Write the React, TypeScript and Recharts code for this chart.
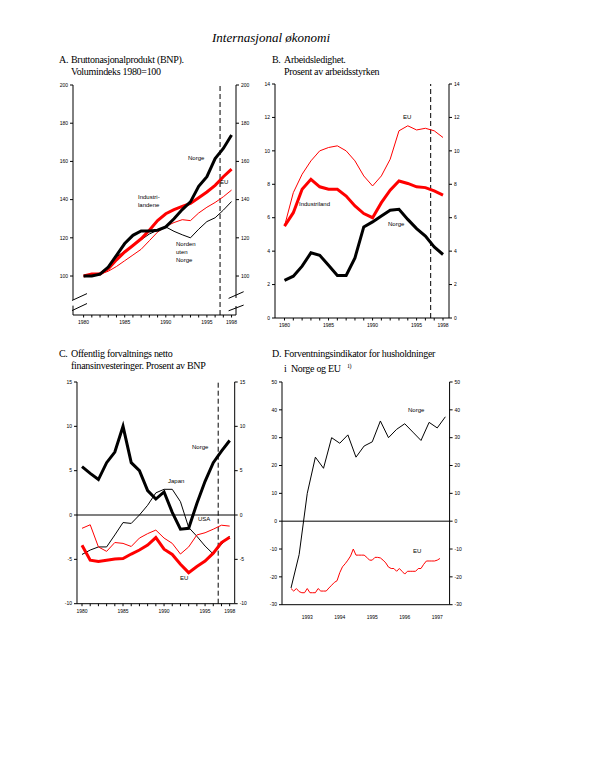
import React from 'react';
import { LineChart, Line, XAxis, YAxis, ReferenceLine } from 'recharts';

// ---- data ----
const years = [1980, 1981, 1982, 1983, 1984, 1985, 1986, 1987, 1988, 1989, 1990, 1991, 1992, 1993, 1994, 1995, 1996, 1997, 1998];

// A. BNP, volumindeks 1980=100
const bnpNorge = [100, 100, 101, 104.7, 110.8, 117, 121.3, 123.6, 123.6, 124, 125.7, 130, 134.8, 138.8, 147, 152, 161.5, 166.8, 173.8];
const bnpEU = [100, 101, 101, 103.8, 108.5, 112.6, 116, 119.5, 124, 129, 132.6, 134.8, 136.5, 138, 141, 144, 147.5, 152, 156];
const bnpIndustri = [100, 101, 101, 102.5, 105, 108, 111, 114, 118.5, 123, 126, 128, 129.5, 129, 133, 136, 138.5, 141.5, 145];
const bnpNorden = [100, 101, 101.5, 105, 110, 113, 116, 119, 122, 124, 125.7, 123.4, 121.6, 120, 124.5, 128.5, 130.5, 134.5, 139];

// B. Arbeidsledighet
const ledigNorge = [2.25, 2.5, 3.1, 3.9, 3.75, 3.15, 2.55, 2.55, 3.6, 5.45, 5.75, 6.1, 6.45, 6.5, 5.9, 5.35, 4.9, 4.25, 3.8];
const ledigIndustri = [5.5, 6.3, 7.7, 8.3, 7.85, 7.7, 7.7, 7.3, 6.7, 6.25, 6.0, 6.9, 7.65, 8.2, 8.05, 7.85, 7.8, 7.6, 7.35];
const ledigEU = [5.5, 7.5, 8.6, 9.4, 10.0, 10.2, 10.3, 10.0, 9.4, 8.5, 7.9, 8.5, 9.5, 11.2, 11.5, 11.25, 11.35, 11.2, 10.8];

// C. Netto finansinvesteringer
const finNorge = [5.45, 4.7, 4.0, 5.9, 7.1, 10, 5.9, 5.0, 2.75, 1.8, 2.6, 0.3, -1.6, -1.5, 1.3, 3.8, 5.9, 7.2, 8.4];
const finJapan = [-4.45, -3.95, -3.6, -3.6, -2.25, -0.85, -0.95, 0, 1.1, 2.5, 2.9, 2.9, 1.5, -1.4, -2.4, -3.5, -4.4, -3.3, -2.4];
const finUSA = [-1.5, -1.1, -3.6, -4.1, -3.1, -3.2, -3.55, -2.6, -2.1, -1.7, -2.6, -3.2, -4.4, -3.6, -2.25, -2.0, -1.6, -1.15, -1.25];
const finEU = [-3.4, -5.1, -5.25, -5.1, -4.95, -4.9, -4.4, -3.95, -3.4, -2.55, -3.85, -4.45, -5.55, -6.5, -5.8, -5.2, -4.3, -3.1, -2.5];

// D. Forventningsindikator
const norgeKvartal = ['1992K3', '1992K4', '1993K1', '1993K2', '1993K3', '1993K4', '1994K1', '1994K2', '1994K3', '1994K4',
  '1995K1', '1995K2', '1995K3', '1995K4', '1996K1', '1996K2', '1996K3', '1996K4', '1997K1', '1997K2'];
const forvNorge = [-24, -12, 10, 23, 19, 30, 28, 31, 23, 27, 28.5, 36, 30, 33, 35, 32, 29, 35.5, 33.5, 37.5];
const euMaaned = [
  '1992-07', '1992-08', '1992-09', '1992-10', '1992-11', '1992-12',
  '1993-01', '1993-02', '1993-03', '1993-04', '1993-05', '1993-06', '1993-07', '1993-08', '1993-09', '1993-10', '1993-11', '1993-12',
  '1994-01', '1994-02', '1994-03', '1994-04', '1994-05', '1994-06', '1994-07', '1994-08', '1994-09', '1994-10', '1994-11', '1994-12',
  '1995-01', '1995-02', '1995-03', '1995-04', '1995-05', '1995-06', '1995-07', '1995-08', '1995-09', '1995-10', '1995-11', '1995-12',
  '1996-01', '1996-02', '1996-03', '1996-04', '1996-05', '1996-06', '1996-07', '1996-08', '1996-09', '1996-10', '1996-11', '1996-12',
  '1997-01', '1997-02'
];
const forvEU = [
  -24.2, -25.1, -24.2, -25.3, -25.7, -25.7,
  -24.2, -25.7, -25.7, -25.7, -24.2, -25.1, -25.1, -25.1, -24, -23, -22, -21.4,
  -18.5, -16.4, -15.3, -14, -12.5, -10, -12.2, -12.2, -12.2, -12.2, -13, -14,
  -14, -13, -13, -13.2, -14, -15, -16.5, -17, -17, -18, -17, -18,
  -19, -18, -18, -18, -18, -17, -17, -15.5, -14.3, -14.3, -14.3, -14.3,
  -14, -13.4
];

// ---- tables ----
const tableA = years.map((year, i) => ({ year, norge: bnpNorge[i], eu: bnpEU[i], ind: bnpIndustri[i], norden: bnpNorden[i] }));
const tableB = years.map((year, i) => ({ year, norge: ledigNorge[i], ind: ledigIndustri[i], eu: ledigEU[i] }));
const tableC = years.map((year, i) => ({ year, norge: finNorge[i], japan: finJapan[i], usa: finUSA[i], eu: finEU[i] }));

const quarterT = (q: string) => Number(q.slice(0, 4)) + (Number(q.slice(5)) - 1) / 4;
const monthT = (m: string) => Number(m.slice(0, 4)) + (Number(m.slice(5)) - 1) / 12;
const rowsD: Record<string, any> = {};
norgeKvartal.forEach((q, i) => {
  const t = quarterT(q);
  const k = t.toFixed(4);
  rowsD[k] = { ...(rowsD[k] || { t }), norge: forvNorge[i] };
});
euMaaned.forEach((m, i) => {
  const t = monthT(m);
  const k = t.toFixed(4);
  rowsD[k] = { ...(rowsD[k] || { t }), eu: forvEU[i] };
});
const tableD = Object.values(rowsD).sort((a: any, b: any) => a.t - b.t);

// ---- layout helpers ----
const AX = 30;
const PT = 5;
const PB = 2;
const XH = 18;
type Rect = { x0: number; x1: number; y0: number; y1: number };

function frame(r: Rect) {
  return {
    style: { position: 'absolute' as const, left: r.x0 - AX, top: r.y0 - PT },
    width: r.x1 - r.x0 + 2 * AX,
    height: r.y1 - r.y0 + PT + PB + XH,
    margin: { top: PT, right: 0, bottom: PB, left: 0 }
  };
}

const tickFont = { fontSize: 5, fill: '#000', fontFamily: '"Liberation Sans", Arial, sans-serif' };
const yearTicks = years;
const yearLabel = (labels: number[]) => (v: number) => (labels.includes(v) ? String(v) : '');
const DASH_X = 1996.6;

const rectA = { x0: 72.7, x1: 235.7, y0: 85, y1: 315 };
const rectB = { x0: 275, x1: 449, y0: 84.3, y1: 318.3 };
const rectC = { x0: 77.3, x1: 235, y0: 382.3, y1: 604 };
const rectD = { x0: 281.7, x1: 449.3, y0: 382.3, y1: 605 };

const domA: [number, number] = [1978.71, 1998.54];
const domB: [number, number] = [1978.92, 1998.68];
const domC: [number, number] = [1979.39, 1998.61];
const domD: [number, number] = [1992.223, 1997.38];

function Txt({ x, y, children, size = 6 }: { x: number; y: number; children: React.ReactNode; size?: number }) {
  return (
    <div style={{ position: 'absolute', left: x, top: y - size / 2, fontSize: size, lineHeight: `${size}px`, fontFamily: '"Liberation Sans", Arial, sans-serif', whiteSpace: 'nowrap' }}>
      {children}
    </div>
  );
}

function Heading({ x, y, letter, lines }: { x: number; y: number; letter: string; lines: React.ReactNode[] }) {
  return (
    <div style={{ position: 'absolute', left: x, top: y, fontFamily: '"Liberation Serif", "Times New Roman", serif', fontSize: 10, lineHeight: '12px', letterSpacing: -0.3, whiteSpace: 'nowrap' }}>
      <span style={{ position: 'absolute', left: 0, top: 0 }}>{letter}</span>
      {lines.map((l, i) => (
        <div key={i} style={{ position: 'absolute', left: 12, top: i * 12 }}>{l}</div>
      ))}
    </div>
  );
}

export default function App() {
  const fA = frame(rectA);
  const fB = frame(rectB);
  const fC = frame(rectC);
  const fD = frame(rectD);
  return (
    <div style={{ position: 'absolute', left: 0, top: 0, width: 594, height: 768, background: '#fff', overflow: 'hidden' }}>
      <div style={{ position: 'absolute', left: 212, top: 30, fontFamily: '"Liberation Serif", "Times New Roman", serif', fontStyle: 'italic', fontSize: 13, whiteSpace: 'nowrap' }}>
        Internasjonal økonomi
      </div>

      <Heading x={59} y={54} letter='A.' lines={['Bruttonasjonalprodukt (BNP).', 'Volumindeks 1980=100']} />
      <Heading x={272} y={54} letter='B.' lines={['Arbeidsledighet.', 'Prosent av arbeidsstyrken']} />
      <Heading x={59} y={348} letter='C.' lines={['Offentlig forvaltnings netto', 'finansinvesteringer. Prosent av BNP']} />
      <Heading x={272} y={348} letter='D.' lines={['Forventningsindikator for husholdninger', <span>i&nbsp; Norge og EU <sup style={{ fontSize: 6, marginLeft: 4 }}>1)</sup></span>]} />

      {/* A */}
      <div style={fA.style}>
        <LineChart width={fA.width} height={fA.height} data={tableA} margin={fA.margin}>
          <XAxis type='number' dataKey='year' domain={domA} ticks={yearTicks} interval={0} tickFormatter={yearLabel([1980, 1985, 1990, 1995, 1998])}
            tickSize={2.5} tickMargin={3} height={XH} tick={tickFont} stroke='#000' allowDataOverflow />
          <YAxis yAxisId='l' domain={[79.6, 200]} ticks={[100, 120, 140, 160, 180, 200]} interval={0} tickSize={3} tickMargin={2}
            width={AX} tick={tickFont} stroke='#000' axisLine={false} allowDataOverflow />
          <YAxis yAxisId='r' orientation='right' domain={[79.6, 200]} ticks={[100, 120, 140, 160, 180, 200]} interval={0} tickSize={3} tickMargin={2}
            width={AX} tick={tickFont} stroke='#000' axisLine={false} allowDataOverflow />
          <ReferenceLine yAxisId='l' ifOverflow='visible' stroke='#000' segment={[{ x: domA[0], y: 200 }, { x: domA[0], y: 87.5 }]} />
          <ReferenceLine yAxisId='l' ifOverflow='visible' stroke='#000' segment={[{ x: domA[0], y: 84.5 }, { x: domA[0], y: 79.6 }]} />
          <ReferenceLine yAxisId='l' ifOverflow='visible' stroke='#000' segment={[{ x: domA[1], y: 200 }, { x: domA[1], y: 88.5 }]} />
          <ReferenceLine yAxisId='l' ifOverflow='visible' stroke='#000' segment={[{ x: domA[1], y: 84.3 }, { x: domA[1], y: 79.6 }]} />
          <ReferenceLine yAxisId='l' ifOverflow='visible' stroke='#000' segment={[{ x: 1978.59, y: 87.2 }, { x: 1980.41, y: 90.8 }]} />
          <ReferenceLine yAxisId='l' ifOverflow='visible' stroke='#000' segment={[{ x: 1978.59, y: 81.9 }, { x: 1980.41, y: 85.6 }]} />
          <ReferenceLine yAxisId='l' ifOverflow='visible' stroke='#000' segment={[{ x: 1997.64, y: 88.3 }, { x: 1999.47, y: 91.8 }]} />
          <ReferenceLine yAxisId='l' ifOverflow='visible' stroke='#000' segment={[{ x: 1997.64, y: 81.8 }, { x: 1999.47, y: 84.8 }]} />
          <ReferenceLine yAxisId='l' x={DASH_X} stroke='#000' strokeDasharray='5 3' />
          <Line yAxisId='l' dataKey='norden' stroke='#000' strokeWidth={1} dot={false} isAnimationActive={false} />
          <Line yAxisId='l' dataKey='ind' stroke='#ff0000' strokeWidth={1} dot={false} isAnimationActive={false} />
          <Line yAxisId='l' dataKey='eu' stroke='#ff0000' strokeWidth={3} dot={false} isAnimationActive={false} />
          <Line yAxisId='l' dataKey='norge' stroke='#000' strokeWidth={3} dot={false} isAnimationActive={false} />
        </LineChart>
      </div>

      {/* B */}
      <div style={fB.style}>
        <LineChart width={fB.width} height={fB.height} data={tableB} margin={fB.margin}>
          <XAxis type='number' dataKey='year' domain={domB} ticks={yearTicks} interval={0} tickFormatter={yearLabel([1980, 1985, 1990, 1995, 1998])}
            tickSize={2.5} tickMargin={3} height={XH} tick={tickFont} stroke='#000' allowDataOverflow />
          <YAxis yAxisId='l' domain={[0, 14]} ticks={[0, 2, 4, 6, 8, 10, 12, 14]} interval={0} tickSize={3} tickMargin={2}
            width={AX} tick={tickFont} stroke='#000' allowDataOverflow />
          <YAxis yAxisId='r' orientation='right' domain={[0, 14]} ticks={[0, 2, 4, 6, 8, 10, 12, 14]} interval={0} tickSize={3} tickMargin={2}
            width={AX} tick={tickFont} stroke='#000' allowDataOverflow />
          <ReferenceLine yAxisId='l' x={DASH_X} stroke='#000' strokeDasharray='5 3' />
          <Line yAxisId='l' dataKey='eu' stroke='#ff0000' strokeWidth={1} dot={false} isAnimationActive={false} />
          <Line yAxisId='l' dataKey='ind' stroke='#ff0000' strokeWidth={3} dot={false} isAnimationActive={false} />
          <Line yAxisId='l' dataKey='norge' stroke='#000' strokeWidth={3} dot={false} isAnimationActive={false} />
        </LineChart>
      </div>

      {/* C */}
      <div style={fC.style}>
        <LineChart width={fC.width} height={fC.height} data={tableC} margin={fC.margin}>
          <XAxis type='number' dataKey='year' domain={domC} ticks={yearTicks} interval={0} tickFormatter={yearLabel([1980, 1985, 1990, 1995, 1998])}
            tickSize={2.5} tickMargin={3} height={XH} tick={tickFont} stroke='#000' allowDataOverflow />
          <YAxis yAxisId='l' domain={[-10, 15]} ticks={[-10, -5, 0, 5, 10, 15]} interval={0} tickSize={3} tickMargin={2}
            width={AX} tick={tickFont} stroke='#000' allowDataOverflow />
          <YAxis yAxisId='r' orientation='right' domain={[-10, 15]} ticks={[-10, -5, 0, 5, 10, 15]} interval={0} tickSize={3} tickMargin={2}
            width={AX} tick={tickFont} stroke='#000' allowDataOverflow />
          <ReferenceLine yAxisId='l' y={0} stroke='#000' />
          <ReferenceLine yAxisId='l' x={DASH_X} stroke='#000' strokeDasharray='5 3' />
          <Line yAxisId='l' dataKey='japan' stroke='#000' strokeWidth={1} dot={false} isAnimationActive={false} />
          <Line yAxisId='l' dataKey='usa' stroke='#ff0000' strokeWidth={1} dot={false} isAnimationActive={false} />
          <Line yAxisId='l' dataKey='eu' stroke='#ff0000' strokeWidth={3} dot={false} isAnimationActive={false} />
          <Line yAxisId='l' dataKey='norge' stroke='#000' strokeWidth={3} dot={false} isAnimationActive={false} />
        </LineChart>
      </div>

      {/* D */}
      <div style={fD.style}>
        <LineChart width={fD.width} height={fD.height} data={tableD} margin={fD.margin}>
          <XAxis type='number' dataKey='t' domain={domD} ticks={[1993, 1994, 1995, 1996, 1997]} interval={0}
            tickLine={false} tickMargin={5} height={XH} tick={tickFont} stroke='#000' allowDataOverflow />
          <YAxis yAxisId='l' domain={[-30, 50]} ticks={[-30, -20, -10, 0, 10, 20, 30, 40, 50]} interval={0} tickSize={3} tickMargin={2}
            width={AX} tick={tickFont} stroke='#000' allowDataOverflow />
          <YAxis yAxisId='r' orientation='right' domain={[-30, 50]} ticks={[-30, -20, -10, 0, 10, 20, 30, 40, 50]} interval={0} tickSize={3} tickMargin={2}
            width={AX} tick={tickFont} stroke='#000' allowDataOverflow />
          <ReferenceLine yAxisId='l' y={0} stroke='#000' />
          <Line yAxisId='l' dataKey='eu' stroke='#ff0000' strokeWidth={1} dot={false} connectNulls isAnimationActive={false} />
          <Line yAxisId='l' dataKey='norge' stroke='#000' strokeWidth={1} dot={false} connectNulls isAnimationActive={false} />
        </LineChart>
      </div>

      {/* series labels */}
      <Txt x={188} y={158}>Norge</Txt>
      <Txt x={220} y={182}>EU</Txt>
      <Txt x={138} y={197}>Industri-</Txt>
      <Txt x={138} y={205}>landene</Txt>
      <Txt x={176} y={244}>Norden</Txt>
      <Txt x={176} y={252}>uten</Txt>
      <Txt x={176} y={260}>Norge</Txt>

      <Txt x={403} y={117}>EU</Txt>
      <Txt x={299} y={204}>Industriland</Txt>
      <Txt x={388} y={224}>Norge</Txt>

      <Txt x={192} y={447}>Norge</Txt>
      <Txt x={168} y={481}>Japan</Txt>
      <Txt x={198} y={519}>USA</Txt>
      <Txt x={180} y={578}>EU</Txt>

      <Txt x={408} y={410}>Norge</Txt>
      <Txt x={413} y={551}>EU</Txt>
    </div>
  );
}
